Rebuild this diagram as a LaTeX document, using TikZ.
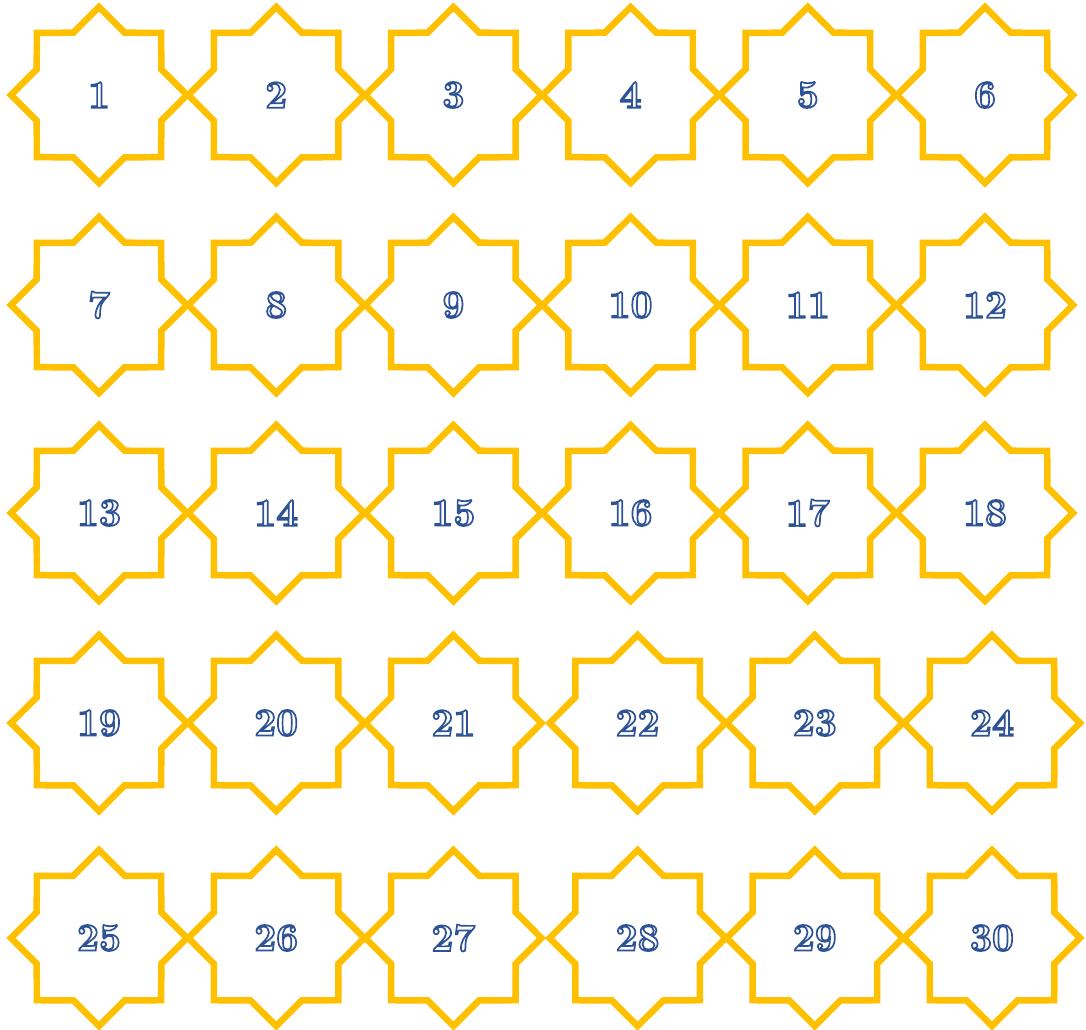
\documentclass[tikz,border=0pt]{standalone}
\definecolor{gold}{RGB}{255,192,0}
\definecolor{numblue}{RGB}{46,82,150}
\newcommand\outlinenum[1]{\special{pdf:literal direct 2 Tr 1.7 w 1 1 1 rg}#1\special{pdf:literal direct 0 Tr 0.180 0.322 0.588 rg}}
\begin{document}
\begin{tikzpicture}[x=1pt,y=-1pt,
  starline/.style={draw=gold,line width=6.5pt,line join=miter},
  numlabel/.style={font=\fontsize{39}{39}\selectfont\bfseries,text=numblue,inner sep=0pt}]
\useasboundingbox[fill=white] (0,0) rectangle (1086,1029);
\foreach \r/\yy/\xs in {0/95/0,1/305/0,2/513/0,3/723/7,4/938/7} {
  \foreach \c in {0,...,5} {
    \pgfmathtruncatemacro\n{\r*6+\c+1}
    \pgfmathsetmacro\xx{99+177.2*\c+(\c>2?\xs:0)}
    \draw[starline,shift={(\xx,\yy)}]
      (0:88) -- (22.5:67.4) -- (45:88) -- (67.5:67.4) -- (90:88) -- (112.5:67.4)
      -- (135:88) -- (157.5:67.4) -- (180:88) -- (202.5:67.4) -- (225:88)
      -- (247.5:67.4) -- (270:88) -- (292.5:67.4) -- (315:88) -- (337.5:67.4) -- cycle;
    \node[numlabel] (n\n) at (\xx,\yy) {\outlinenum{\n}};
  }
}
\end{tikzpicture}
\end{document}
